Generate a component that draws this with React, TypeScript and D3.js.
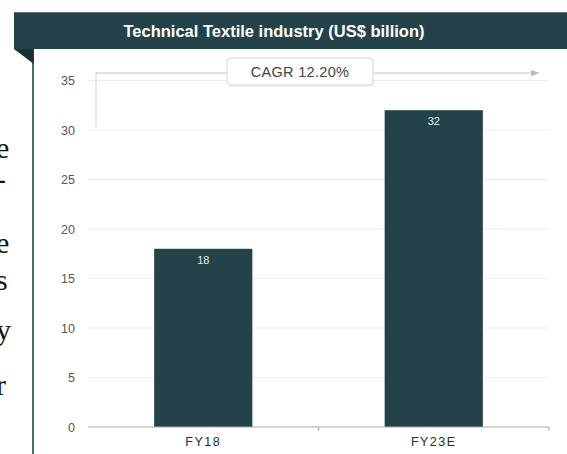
import React from "react";
import * as d3 from "d3";

const categories: string[] = ["FY18", "FY23E"];
const values: number[] = [18, 32];
const yTicks: number[] = [0, 5, 10, 15, 20, 25, 30, 35];
const title = "Technical Textile industry (US$ billion)";
const cagrLabel = "CAGR 12.20%";
const sideLetters: string[] = ["e", "-", "e", "s", "y", "r"];

const W = 567;
const H = 454;
const DARK = "#24424a";
const FONT = "'Liberation Sans', Arial, Helvetica, sans-serif";

export default function App() {
  const y = d3.scaleLinear().domain([0, 35]).range([427, 80.5]);
  const x = d3
    .scaleBand<string>()
    .domain(categories)
    .range([88, 549])
    .paddingInner(0.574)
    .paddingOuter(0.287);
  const step = x.step();
  const x0 = 88;
  const x1 = 549;
  const sideY = [158, 189, 253, 290, 340, 395];
  const cagrY = 73;

  return (
    <svg
      width={W}
      height={H}
      viewBox={`0 0 ${W} ${H}`}
      style={{ position: "absolute", left: 0, top: 0, background: "#fff" }}
    >
      {/* background document letters cut at the left */}
      {sideLetters.map((c, i) => (
        <text
          key={i}
          x={-4}
          y={sideY[i]}
          fontFamily="'Liberation Serif', 'Times New Roman', serif"
          fontSize={30}
          fill="#111"
        >
          {c}
        </text>
      ))}

      {/* panel */}
      <rect x={34} y={49} width={W - 34} height={H - 49} fill="#fff" />
      <line x1={33} y1={49} x2={33} y2={H} stroke="#3b5860" strokeWidth={1.8} />

      {/* header */}
      <rect x={14} y={12} width={W - 14} height={37} fill={DARK} />
      <line x1={14} y1={12.5} x2={W} y2={12.5} stroke="#5d7479" strokeWidth={1} />
      <polygon points="14,49 33.8,49 33.8,64" fill="#1b2f35" />
      <text
        x={274}
        y={37}
        textAnchor="middle"
        fontFamily={FONT}
        fontWeight="bold"
        fontSize={16.5}
        fill="#ffffff"
      >
        {title}
      </text>

      {/* gridlines */}
      {yTicks.filter((t) => t > 0).map((t) => (
        <line key={t} x1={x0} x2={x1} y1={y(t)} y2={y(t)} stroke="#ececec" strokeWidth={1} />
      ))}

      {/* y tick labels */}
      {yTicks.map((t) => (
        <text
          key={t}
          x={75}
          y={y(t) + 4.5}
          textAnchor="end"
          fontFamily={FONT}
          fontSize={12.5}
          fill="#555"
        >
          {t}
        </text>
      ))}

      {/* bars */}
      {categories.map((c, i) => (
        <g key={c}>
          <rect
            x={x(c)}
            y={y(values[i])}
            width={x.bandwidth()}
            height={y(0) - y(values[i])}
            fill={DARK}
          />
          <text
            x={(x(c) as number) + x.bandwidth() / 2}
            y={y(values[i]) + 15}
            textAnchor="middle"
            fontFamily={FONT}
            fontSize={11}
            fill="#e6eef0"
          >
            {values[i]}
          </text>
          <text
            x={(x(c) as number) + x.bandwidth() / 2}
            y={446}
            textAnchor="middle"
            fontFamily={FONT}
            fontSize={12.5}
            letterSpacing={1.5}
            fill="#2a2a2a"
          >
            {c}
          </text>
        </g>
      ))}

      {/* x axis baseline and ticks */}
      <line x1={x0} x2={x1} y1={y(0)} y2={y(0)} stroke="#aaaaaa" strokeWidth={1.2} />
      {categories.map((c, i) => (
        <line
          key={c}
          x1={x0 + step * (i + 1)}
          x2={x0 + step * (i + 1)}
          y1={y(0)}
          y2={y(0) + 4}
          stroke="#aaaaaa"
          strokeWidth={1}
        />
      ))}

      {/* CAGR connector */}
      <line x1={96} y1={cagrY} x2={96} y2={127} stroke="#cfcfcf" strokeWidth={1} />
      <line x1={96} y1={cagrY} x2={533} y2={cagrY} stroke="#c4c4c4" strokeWidth={1} />
      <polygon
        points={`531,${cagrY - 3} 540,${cagrY} 531,${cagrY + 3}`}
        fill="#bbbbbb"
      />
      <rect
        x={228}
        y={60}
        width={146}
        height={27}
        rx={4}
        fill="#e9e9e9"
        opacity={0.6}
      />
      <rect
        x={227}
        y={58}
        width={146}
        height={27}
        rx={4}
        fill="#ffffff"
        stroke="#d6d6d6"
        strokeWidth={1}
      />
      <text
        x={300}
        y={77}
        textAnchor="middle"
        fontFamily={FONT}
        fontSize={14.5}
        letterSpacing={0.3}
        fill="#444"
      >
        {cagrLabel}
      </text>
    </svg>
  );
}
